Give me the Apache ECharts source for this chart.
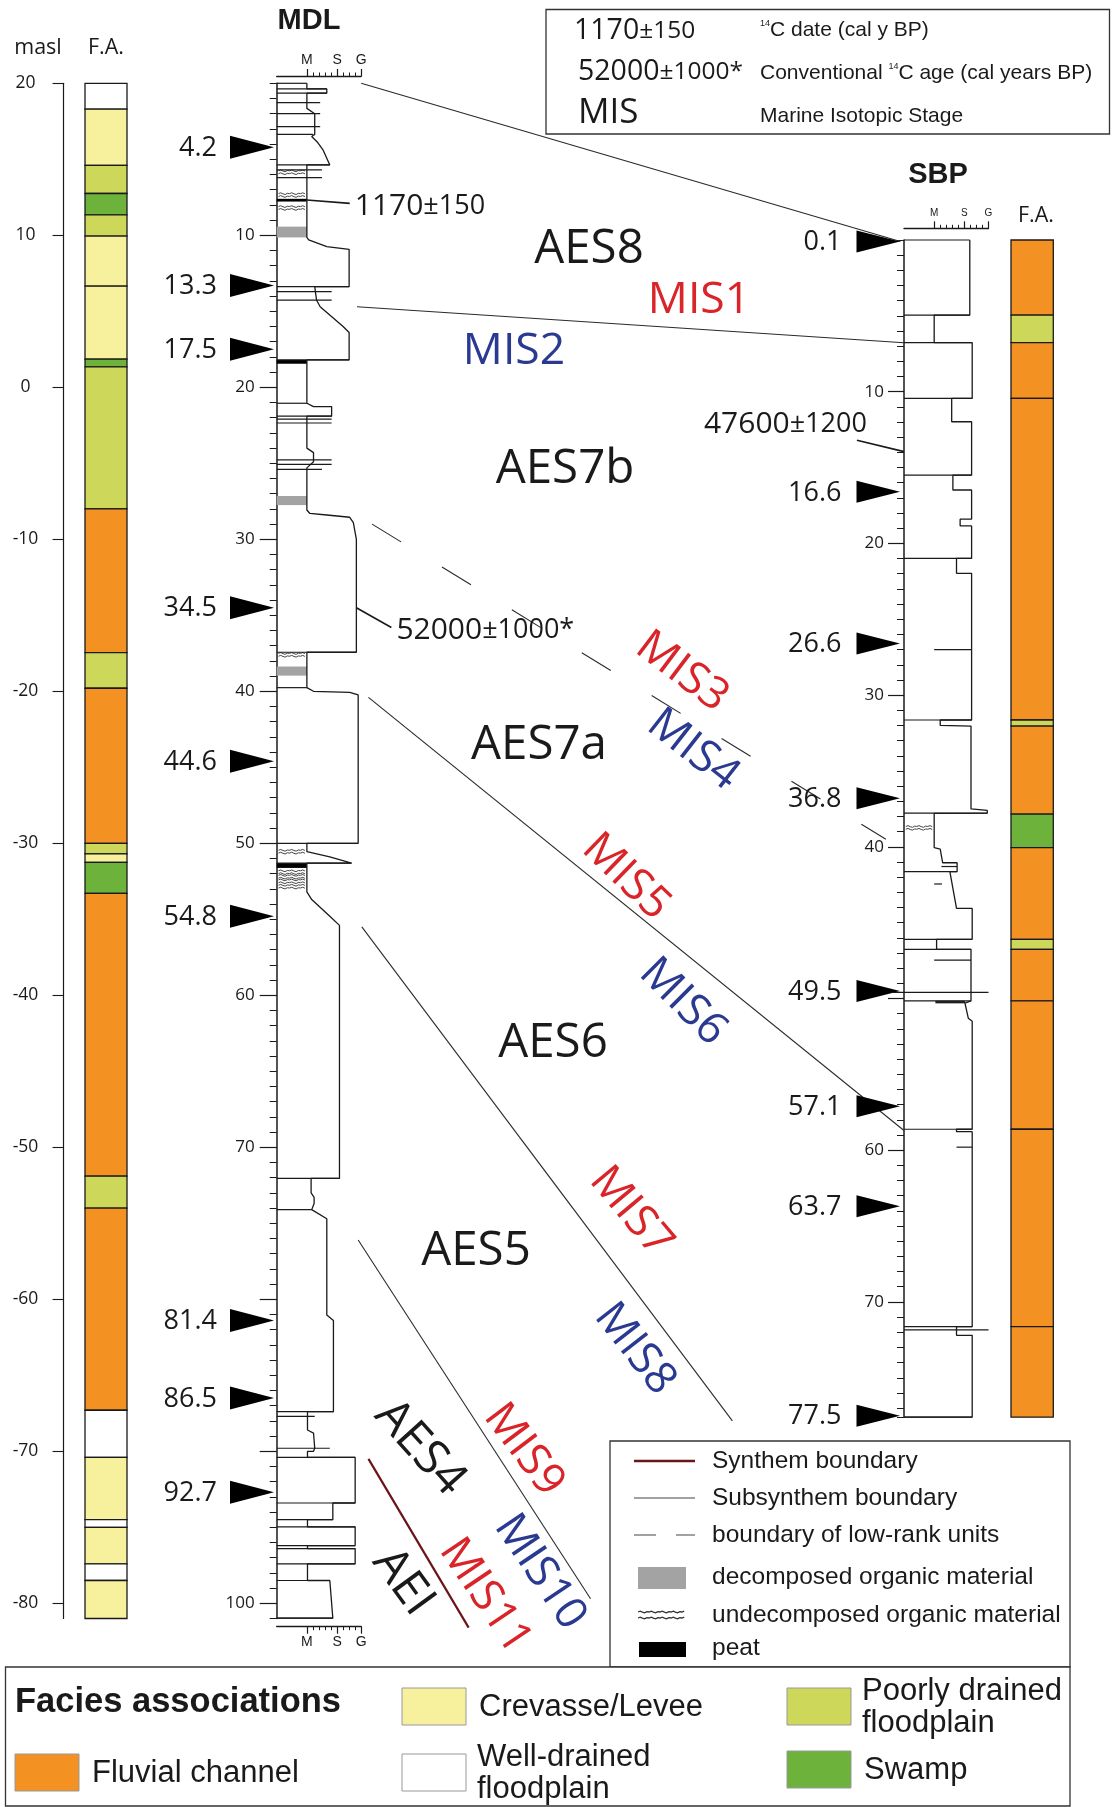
<!DOCTYPE html>
<html>
<head>
<meta charset="utf-8">
<script src="https://cdn.jsdelivr.net/npm/echarts@6.0.0/dist/echarts.min.js"></script>
<style>
html,body{margin:0;padding:0;background:#fff;}
#chart{width:1113px;height:1807px;}
</style>
</head>
<body>
<div id="chart"></div>
<script>
// ================= DATA =================
const maslTicks = [20, 10, 0, -10, -20, -30, -40, -50, -60, -70, -80];
// [top masl, bottom masl, facies code]
const leftFacies = [
  [20, 18.3, 'W'], [18.3, 14.6, 'C'], [14.6, 12.75, 'P'], [12.75, 11.35, 'S'], [11.35, 9.95, 'P'],
  [9.95, 6.65, 'C'], [6.65, 1.85, 'C'], [1.85, 1.35, 'S'], [1.35, -8.0, 'P'], [-8.0, -17.45, 'F'],
  [-17.45, -19.8, 'P'], [-19.8, -30.0, 'F'], [-30.0, -30.7, 'P'], [-30.7, -31.25, 'C'], [-31.25, -33.3, 'S'],
  [-33.3, -51.9, 'F'], [-51.9, -54.0, 'P'], [-54.0, -67.3, 'F'], [-67.3, -70.4, 'W'], [-70.4, -74.5, 'C'],
  [-74.5, -75.0, 'W'], [-75.0, -77.4, 'C'], [-77.4, -78.5, 'W'], [-78.5, -81.0, 'C']
];
const mdlMajorTicks = [10, 20, 30, 40, 50, 60, 70, 80, 90, 100];
const mdlDepthLabels = [10, 20, 30, 40, 50, 60, 70, 100];
// right edge of the MDL log: [grain size, depth m]
const mdlProfile = [
  [5.0,0],[5.0,0.37],[8.3,0.37],[8.3,0.65],[5.0,0.65],
  [5.0,1.65],[6.3,2.0],[6.3,3.36],
  [5.8,3.5],[6.8,3.9],[7.7,4.4],[8.8,5.37],[5.0,5.37],
  [5.0,10.14],[5.3,10.3],[8.3,10.75],[12.0,10.92],[12.0,13.38],[6.3,13.38],
  [6.6,14.26],[7.2,14.7],[11.0,16.0],[12.0,16.4],[12.0,18.2],[5.0,18.2],
  [5.0,21.05],[6.1,21.27],[9.1,21.27],[9.1,21.9],[5.0,21.9],
  [5.0,24.0],[6.1,24.3],[6.1,24.9],[5.0,25.3],
  [5.0,28.07],[5.5,28.3],[8.3,28.4],[12.1,28.55],[12.7,28.9],[13.2,30.0],[13.2,37.43],[5.0,37.43],
  [5.0,39.76],[6.1,40.0],[12.1,40.07],[13.5,40.24],[13.5,50.0],[5.0,50.0],
  [5.0,50.55],[8.8,50.9],[12.4,51.3],[5.0,51.3],
  [5.0,53.2],[5.8,53.7],[8.8,54.8],[10.4,55.4],[10.4,72.04],[5.7,72.04],
  [5.7,73.0],[6.2,73.3],[6.2,73.7],[5.8,74.1],[8.3,74.7],[8.3,81.03],[9.4,81.4],[9.4,87.39],[5.1,87.39],
  [5.1,88.6],[6.1,88.8],[6.3,88.8],[6.3,89.8],[6.1,90.0],[5.1,90.0],[5.1,90.4],
  [13.0,90.4],[13.0,93.4],[9.3,93.4],[9.3,94.5],[5.1,94.5],[5.1,94.97],[13.0,94.97],[13.0,96.2],
  [5.1,96.2],[5.1,96.4],[13.0,96.4],[13.0,97.4],[5.1,97.4],[5.1,98.5],[8.8,98.5],[9.3,100.98],[0,100.98]
];
// bed boundaries: [depth, from grain size, to grain size]
const mdlBeds = [
  [0,0,5.0],[0.37,0,8.3],[0.65,0,8.3],[1.27,0,7.2],[2.0,0,7.2],[2.85,0,7.2],[3.36,0,6.0],[5.37,0,8.8],
  [5.7,0,7.5],[6.2,0,7.5],[13.38,0,12.0],[13.7,0,9.1],[14.26,0,9.1],[18.2,0,12.0],[21.05,0,5.0],
  [21.9,0,9.1],[22.1,0,9.1],[22.35,0,9.1],[24.78,0,9.1],[25.07,0,9.1],[25.4,0,7.5],[37.43,0,13.2],
  [39.76,0,5.0],[50.0,0,13.5],[51.3,0,12.4],[72.04,0,10.4],[74.1,0,5.8],[87.39,0,9.4],[87.7,0,6.3],
  [89.8,0,8.8],[90.4,0,13.0],[93.4,0,13.0],[94.5,0,9.3],[94.97,0,13.0],[96.2,0,13.0],[96.4,0,13.0],
  [97.4,0,13.0],[98.5,0,8.8],[100.98,0,9.3]
];
// [top, bottom, from, to]
const mdlPeat = [[7.6,7.78,0,5.0],[18.2,18.45,0,5.0],[51.3,51.62,0,5.0]];
const mdlDecomposed = [[9.43,10.14,0,5.0],[27.15,27.75,0,5.0],[38.37,38.97,0,5.0]];
const mdlUndecomposed = [5.85, 7.35, 8.2, 37.6, 50.55, 51.9, 52.2, 52.5, 52.85];
const mdlAges = [4.2, 13.3, 17.5, 34.5, 44.6, 54.8, 81.4, 86.5, 92.7];

const sbpMajorTicks = [10, 20, 30, 40, 50, 60, 70];
const sbpDepthLabels = [10, 20, 30, 40, 60, 70];
const sbpProfile = [
  [10.9,0],[10.9,4.95],[5.0,4.95],[5.0,6.77],[11.3,6.77],[11.3,10.44],[7.9,10.44],[7.9,11.98],
  [11.2,11.98],[11.2,15.5],[8.1,15.5],[8.1,16.48],[11.2,16.48],[11.2,18.4],[9.3,18.4],[9.3,18.85],
  [11.2,18.85],[11.2,20.99],[8.7,20.99],[8.7,21.97],[11.2,21.97],[11.2,31.64],[6.0,31.64],[6.0,32.0],
  [11.1,32.04],[11.1,37.5],[13.8,37.6],[13.8,37.78],[5.0,37.8],[5.0,40.06],[6.0,40.15],[6.4,41.05],
  [8.8,41.05],[8.8,41.64],[7.6,41.64],[8.7,44.06],[11.3,44.06],[11.3,46.1],[5.4,46.1],[5.4,46.76],
  [11.1,46.76],[11.1,50.15],[10.1,50.3],[10.65,51.3],[11.3,51.5],[11.3,58.62],[8.7,58.62],[8.7,58.78],
  [11.3,58.78],[11.3,71.63],[8.7,71.63],[8.7,72.2],[11.3,72.2],[11.3,77.6],[0,77.6]
];
const sbpBeds = [
  [0,0,10.9],[4.95,0,10.9],[6.77,0,11.3],[10.44,0,11.3],[15.5,0,11.2],[20.99,0,11.2],[27.0,5.0,11.2],
  [31.64,0,11.2],[37.78,0,13.8],[41.3,6.2,8.8],[41.64,0,8.8],[42.45,5.0,6.3],[46.1,0,11.3],[46.76,0,11.1],
  [47.47,5.0,11.1],[49.6,-1.8,14.0],[50.15,0,11.1],[58.62,0,11.3],[59.8,8.7,11.3],[71.63,0,11.3],
  [71.85,0,14.0],[77.6,0,11.3]
];
const sbpPeat = [[50.15,50.32,5.2,10.1]];
const sbpUndecomposed = [38.75];
const sbpAges = [0.1, 16.6, 26.6, 36.8, 49.5, 57.1, 63.7, 77.5];
// [top depth, bottom depth, facies code]
const sbpFacies = [
  [0,4.95,'F'],[4.95,6.77,'P'],[6.77,10.44,'F'],[10.44,31.64,'F'],[31.64,32.04,'P'],[32.04,37.85,'F'],
  [37.85,40.06,'S'],[40.06,46.1,'F'],[46.1,46.76,'P'],[46.76,50.15,'F'],[50.15,58.62,'F'],
  [58.62,71.63,'F'],[71.63,77.6,'F']
];
const grainMinorTicks = [5, 6, 7, 8, 9, 10, 11, 12, 13, 14];
const grainMajorTicks = [5, 10, 14];
const grainClasses = ['M', 'S', 'G'];
// correlation lines between logs: [log, grain, depth] -> [log, grain, depth]
const correlations = [
  {a:['mdl',14.0,0], b:['sbp',-0.6,0.1], kind:'sub'},
  {a:['mdl',13.3,14.7], b:['sbp',0,6.77], kind:'sub'},
  {a:['mdl',15.8,29.0], b:['sbp',-3.0,39.5], kind:'low'},
  {a:['mdl',15.2,40.4], b:['sbp',0,58.7], kind:'sub'},
  {a:['mdl',14.1,55.5], b:['mdl',75.5,88.0], kind:'sub'},
  {a:['mdl',13.5,76.1], b:['mdl',52.0,99.7], kind:'sub'},
  {a:['mdl',15.2,90.5], b:['mdl',31.8,101.6], kind:'syn'}
];
// radiocarbon dates: sample point on log -> end of leader
const radiocarbon = [
  {log:'mdl', at:[5.0,7.68], end:[12.1,7.9], age:'1170', err:'±150', side:'right'},
  {log:'mdl', at:[13.2,34.5], end:[19.0,35.8], age:'52000', err:'±1000*', side:'right'},
  {log:'sbp', at:[0,13.95], end:[-7.8,13.2], age:'47600', err:'±1200', side:'left'}
];
const unitNames = ['AES8','MIS1','MIS2','AES7b','MIS3','MIS4','AES7a','MIS5','MIS6','AES6','MIS7','MIS8','AES5','AES4','MIS9','MIS10','MIS11','AEI'];
const faciesLegend = [['C','Crevasse/Levee'],['P','Poorly drained\nfloodplain'],['F','Fluvial channel'],['W','Well-drained\nfloodplain'],['S','Swamp']];
const symbolLegend = ['Synthem boundary','Subsynthem boundary','boundary of low-rank units','decomposed organic material','undecomposed organic material','peat'];

// ================= STYLE =================
const FC = {F:'#f39223', C:'#f7f19d', W:'#ffffff', P:'#cdd85a', S:'#6db23a'};
const INK = '#1a1a1a';
const NUM = "'Open Sans','Noto Sans',sans-serif";
const SANS = "'Liberation Sans',Arial,sans-serif";
const RED = '#d9252a', BLUE = '#2b3a91', SYN = '#6b1518';

const chart = echarts.init(document.getElementById('chart'), null, {renderer:'canvas', width:1113, height:1807});

function faciesRender(rows){
  return function(params, api){
    const r = rows[params.dataIndex];
    const a = api.coord([0, r[0]]), b = api.coord([1, r[1]]);
    return {type:'rect', shape:{x:a[0], y:Math.min(a[1],b[1]), width:b[0]-a[0], height:Math.abs(b[1]-a[1])},
      style:{fill:FC[r[2]], stroke:INK, lineWidth:1.3}};
  };
}
function bedRender(rows){
  return function(params, api){
    const r = rows[params.dataIndex];
    const a = api.coord([r[1], r[0]]), b = api.coord([r[2], r[0]]);
    return {type:'line', shape:{x1:a[0], y1:a[1], x2:b[0], y2:b[1]}, style:{stroke:INK, lineWidth:1.2}};
  };
}
function fillRender(rows, color){
  return function(params, api){
    const r = rows[params.dataIndex];
    const a = api.coord([r[2], r[0]]), b = api.coord([r[3], r[1]]);
    return {type:'rect', shape:{x:a[0], y:a[1], width:b[0]-a[0], height:b[1]-a[1]}, style:{fill:color}};
  };
}
function wavy(x0, x1, y){
  const pts = [];
  const pat = [0, -0.8, 0.2, 0.9, -0.3];
  let i = 0;
  for (let x = x0; x <= x1; x += 2.2) { pts.push([x, y + pat[i % pat.length]]); i++; }
  return pts;
}
function undecRender(rows){
  return function(params, api){
    const d = rows[params.dataIndex];
    const a = api.coord([0.3, d]), b = api.coord([4.8, d]);
    return {type:'group', children:[
      {type:'polyline', shape:{points:wavy(a[0], b[0], a[1]-1.4)}, style:{stroke:'#444', lineWidth:1, fill:null}},
      {type:'polyline', shape:{points:wavy(a[0], b[0], a[1]+1.4)}, style:{stroke:'#444', lineWidth:1, fill:null}}
    ]};
  };
}
function markerRender(rows, tipGap, len, half, labelGap){
  return function(params, api){
    const d = rows[params.dataIndex];
    const p = api.coord([0, d]);
    const tip = p[0] - tipGap;
    return {type:'group', children:[
      {type:'polygon', shape:{points:[[tip,p[1]],[tip-len,p[1]-half],[tip-len,p[1]+half]]}, style:{fill:'#000'}},
      {type:'text', style:{text:d.toFixed(1), x:tip-len-labelGap, y:p[1]+1, align:'right', textAlign:'right',
        verticalAlign:'middle', textVerticalAlign:'middle', fontSize:27, fontFamily:NUM, fill:INK}}
    ]};
  };
}

function grainAxes(gridIndex, position, offset, fontSize, margin, showLabels){
  return [
    {gridIndex, type:'value', min:0, max:14, position, offset,
      axisLine:{show:true, onZero:false, lineStyle:{color:INK, width:1.3}},
      axisTick:{show:true, customValues:grainMinorTicks, length:3.5, lineStyle:{color:INK, width:1}},
      axisLabel:{show:false}, splitLine:{show:false}},
    {gridIndex, type:'value', min:0, max:14, position, offset,
      axisLine:{show:false, onZero:false},
      axisTick:{show:true, customValues:grainMajorTicks, length:7, lineStyle:{color:INK, width:1.2}},
      axisLabel:{show:showLabels, customValues:grainMajorTicks, margin, fontSize, fontFamily:SANS, color:INK,
        formatter:v => grainClasses[grainMajorTicks.indexOf(v)] || ''},
      splitLine:{show:false}}
  ];
}

const option = {
  animation:false,
  backgroundColor:'#fff',
  textStyle:{fontFamily:NUM},
  grid:[
    {left:85, top:83.3, width:42, height:1535.2, outerBoundsMode:'none'},
    {left:276.7, top:83.3, width:84.5, height:1535.2, outerBoundsMode:'none'},
    {left:904, top:240, width:84.5, height:1177.2, outerBoundsMode:'none'},
    {left:1011, top:240, width:42.3, height:1177.2, outerBoundsMode:'none'}
  ],
  xAxis:[
    {gridIndex:0, type:'value', min:0, max:1, show:false},
    ...grainAxes(1, 'top', 7.3, 14, 9, true),
    ...grainAxes(1, 'bottom', 8.2, 14, 8, true),
    ...grainAxes(2, 'top', 11.7, 10, 10, true),
    {gridIndex:3, type:'value', min:0, max:1, show:false}
  ],
  yAxis:[
    {gridIndex:0, type:'value', min:-81, max:20, position:'left', offset:21.5,
      axisLine:{show:true, onZero:false, lineStyle:{color:INK, width:1.2}},
      axisTick:{show:true, customValues:maslTicks, length:11, lineStyle:{color:INK, width:1.1}},
      axisLabel:{show:true, customValues:maslTicks, align:'center', margin:38, fontSize:17.5, color:INK, fontFamily:NUM},
      splitLine:{show:false}},
    {gridIndex:1, type:'value', inverse:true, min:0, max:101, position:'left',
      axisLine:{show:true, onZero:false, lineStyle:{color:INK, width:1.5}},
      axisTick:{show:true, customValues:mdlMajorTicks, length:17, lineStyle:{color:INK, width:1.2}},
      axisLabel:{show:true, customValues:mdlDepthLabels, margin:22, fontSize:17, color:INK, fontFamily:NUM},
      splitLine:{show:false}},
    {gridIndex:1, type:'value', inverse:true, min:0, max:101, interval:1, position:'left',
      axisLine:{show:false, onZero:false},
      axisTick:{show:true, length:7, lineStyle:{color:INK, width:1}},
      axisLabel:{show:false}, splitLine:{show:false}},
    {gridIndex:2, type:'value', inverse:true, min:0, max:77.6, position:'left',
      axisLine:{show:true, onZero:false, lineStyle:{color:INK, width:1.5}},
      axisTick:{show:true, customValues:sbpMajorTicks, length:16, lineStyle:{color:INK, width:1.2}},
      axisLabel:{show:true, customValues:sbpDepthLabels, margin:20, fontSize:17, color:INK, fontFamily:NUM},
      splitLine:{show:false}},
    {gridIndex:2, type:'value', inverse:true, min:0, max:77.6, interval:1, position:'left',
      axisLine:{show:false, onZero:false},
      axisTick:{show:true, length:7, lineStyle:{color:INK, width:1}},
      axisLabel:{show:false}, splitLine:{show:false}},
    {gridIndex:3, type:'value', inverse:true, min:0, max:77.6, show:false}
  ],
  series:[
    {type:'custom', xAxisIndex:0, yAxisIndex:0, data:leftFacies.map(r => [0, r[0]]), renderItem:faciesRender(leftFacies), silent:true},
    {type:'custom', xAxisIndex:7, yAxisIndex:5, data:sbpFacies.map(r => [0, r[0]]), renderItem:faciesRender(sbpFacies), silent:true},
    // MDL
    {type:'custom', xAxisIndex:1, yAxisIndex:1, data:mdlDecomposed.map(r => [r[2], r[0]]), renderItem:fillRender(mdlDecomposed, '#a3a3a3'), silent:true},
    {type:'custom', xAxisIndex:1, yAxisIndex:1, data:mdlPeat.map(r => [r[2], r[0]]), renderItem:fillRender(mdlPeat, '#000'), silent:true},
    {type:'custom', xAxisIndex:1, yAxisIndex:1, data:mdlUndecomposed.map(d => [0, d]), renderItem:undecRender(mdlUndecomposed), silent:true},
    {type:'custom', xAxisIndex:1, yAxisIndex:1, data:mdlBeds.map(r => [r[1], r[0]]), renderItem:bedRender(mdlBeds), silent:true},
    {type:'line', xAxisIndex:1, yAxisIndex:1, data:mdlProfile, showSymbol:false, symbol:'none', clip:false, silent:true,
      lineStyle:{color:INK, width:1.3}},
    {type:'custom', xAxisIndex:1, yAxisIndex:1, data:mdlAges.map(d => [0, d]), renderItem:markerRender(mdlAges, 2.7, 44, 11.5, 13), silent:true, z:5},
    // SBP
    {type:'custom', xAxisIndex:5, yAxisIndex:3, data:sbpPeat.map(r => [r[2], r[0]]), renderItem:fillRender(sbpPeat, '#222'), silent:true},
    {type:'custom', xAxisIndex:5, yAxisIndex:3, data:sbpUndecomposed.map(d => [0, d]), renderItem:undecRender(sbpUndecomposed), silent:true},
    {type:'custom', xAxisIndex:5, yAxisIndex:3, data:sbpBeds.map(r => [r[1], r[0]]), renderItem:bedRender(sbpBeds), silent:true},
    {type:'line', xAxisIndex:5, yAxisIndex:3, data:sbpProfile, showSymbol:false, symbol:'none', clip:false, silent:true,
      lineStyle:{color:INK, width:1.3}},
    {type:'custom', xAxisIndex:5, yAxisIndex:3, data:sbpAges.map(d => [0, d]), renderItem:markerRender(sbpAges, 4, 43.5, 11, 15), silent:true, z:5}
  ]
};
chart.setOption(option);

// ---------- second pass: annotations positioned via the axes ----------
function toPx(log, x, d){
  return log === 'mdl'
    ? chart.convertToPixel({xAxisIndex:1, yAxisIndex:1}, [x, d])
    : chart.convertToPixel({xAxisIndex:5, yAxisIndex:3}, [x, d]);
}
function txt(x, y, text, o){
  o = o || {};
  return {type:'text', x, y, rotation:o.rot ? -o.rot*Math.PI/180 : 0, silent:true, z:10,
    style:Object.assign({text, x:0, y:0, fill:o.fill || INK, fontSize:o.size || 20, fontFamily:o.family || SANS,
      fontWeight:o.weight || 'normal', align:o.align || 'left', textAlign:o.align || 'left',
      verticalAlign:'middle', textVerticalAlign:'middle'}, o.extra || {})};
}
const G = [];
correlations.forEach(c => {
  const a = toPx(c.a[0], c.a[1], c.a[2]), b = toPx(c.b[0], c.b[1], c.b[2]);
  G.push({type:'line', silent:true, z:3, shape:{x1:a[0], y1:a[1], x2:b[0], y2:b[1]},
    style:{stroke:c.kind === 'syn' ? SYN : '#2a2a2a', lineWidth:c.kind === 'syn' ? 2.2 : 1.1,
      lineDash:c.kind === 'low' ? [34, 48] : null}});
});
const richDate = {m:{fontSize:30, fontFamily:NUM, fill:INK}, e:{fontSize:27, fontFamily:NUM, fill:INK}};
radiocarbon.forEach(r => {
  const a = toPx(r.log, r.at[0], r.at[1]), b = toPx(r.log, r.end[0], r.end[1]);
  G.push({type:'line', silent:true, z:3, shape:{x1:a[0], y1:a[1], x2:b[0], y2:b[1]}, style:{stroke:INK, lineWidth:1.6}});
  const label = '{m|' + r.age + '}{e|' + r.err + '}';
  if (r.side === 'right') {
    G.push(txt(b[0] + 5, b[1] + 3, label, {extra:{rich:richDate}}));
  } else {
    G.push(txt(b[0] + 10, b[1] - 16, label, {align:'right', extra:{rich:richDate}}));
  }
});
// unit / stage labels
const unitLayout = {
  AES8:[589,249,0], MIS1:[699,300,0], MIS2:[514,351,0], AES7b:[565,469,0],
  MIS3:[682,672,37], MIS4:[693,750,38], AES7a:[539,745,0], MIS5:[626,877,44], MIS6:[683,1002,45],
  AES6:[553,1043,0], MIS7:[631,1212,50], MIS8:[635,1349,52], AES5:[476,1251,0], AES4:[420,1448,48],
  MIS9:[524,1450,53], MIS10:[540,1572,56], MIS11:[485,1596,56], AEI:[403,1582,54]
};
unitNames.forEach(n => {
  const l = unitLayout[n];
  const isMIS = n.indexOf('MIS') === 0;
  const num = isMIS ? parseInt(n.slice(3), 10) : 0;
  const fill = isMIS ? (num % 2 === 1 ? RED : BLUE) : INK;
  G.push(txt(l[0], l[1], n, {rot:l[2], fill, size:isMIS ? 44.5 : 47.5, family:NUM, align:'center'}));
});
// titles
G.push(txt(309, 21, 'MDL', {size:29, weight:'bold', align:'center'}));
G.push(txt(938, 175, 'SBP', {size:29, weight:'bold', align:'center'}));
G.push(txt(38, 48, 'masl', {size:21.5, family:NUM, align:'center'}));
G.push(txt(106, 48, 'F.A.', {size:21.5, family:NUM, align:'center'}));
G.push(txt(1036, 216, 'F.A.', {size:21.5, family:NUM, align:'center'}));

// top-right legend
G.push({type:'rect', silent:true, shape:{x:546, y:9.5, width:563.5, height:124.5}, style:{fill:null, stroke:'#333', lineWidth:1.3}});
const richLeg = {m:{fontSize:28.5, fontFamily:NUM, fill:INK}, e:{fontSize:24.5, fontFamily:NUM, fill:INK}};
const richSup = {n:{fontSize:21, fontFamily:SANS, fill:INK}, s:{fontSize:9, fontFamily:SANS, fill:INK, verticalAlign:'top'}};
G.push(txt(574, 31, '{m|1170}{e|±150}', {extra:{rich:richLeg}}));
G.push(txt(760, 30, '{s|14}{n|C date (cal y BP)}', {extra:{rich:richSup}}));
G.push(txt(578, 72, '{m|52000}{e|±1000*}', {extra:{rich:richLeg}}));
G.push(txt(760, 73, '{n|Conventional }{s|14}{n|C age (cal years BP)}', {extra:{rich:richSup}}));
G.push(txt(578, 113, 'MIS', {size:35, family:NUM}));
G.push(txt(760, 116, 'Marine Isotopic Stage', {size:21}));

// bottom-right symbol legend
G.push({type:'rect', silent:true, shape:{x:610, y:1441, width:460, height:226}, style:{fill:'#fff', stroke:'#333', lineWidth:1.3}, z:1});
const symY = [1461, 1498, 1535, 1577, 1615, 1648];
G.push({type:'line', silent:true, z:2, shape:{x1:634, y1:symY[0], x2:695, y2:symY[0]}, style:{stroke:SYN, lineWidth:2.4}});
G.push({type:'line', silent:true, z:2, shape:{x1:634, y1:symY[1], x2:695, y2:symY[1]}, style:{stroke:'#444', lineWidth:1.2}});
G.push({type:'line', silent:true, z:2, shape:{x1:634, y1:symY[2], x2:695, y2:symY[2]}, style:{stroke:'#444', lineWidth:1.2, lineDash:[22, 20]}});
G.push({type:'rect', silent:true, z:2, shape:{x:638, y:1567, width:48, height:22}, style:{fill:'#a3a3a3'}});
G.push({type:'polyline', silent:true, z:2, shape:{points:wavy(638, 686, 1612)}, style:{stroke:'#333', lineWidth:1.3, fill:null}});
G.push({type:'polyline', silent:true, z:2, shape:{points:wavy(638, 686, 1618)}, style:{stroke:'#333', lineWidth:1.3, fill:null}});
G.push({type:'rect', silent:true, z:2, shape:{x:639, y:1642, width:47, height:15}, style:{fill:'#000'}});
symbolLegend.forEach((s, i) => G.push(txt(712, symY[i], s, {size:24.5})));

// facies legend
G.push({type:'rect', silent:true, z:1, shape:{x:5.5, y:1667, width:1064.5, height:139}, style:{fill:'#fff', stroke:'#333', lineWidth:1.3}});
G.push(txt(15, 1702, 'Facies associations', {size:34.5, weight:'bold'}));
const swatch = {C:[402,1688], P:[787,1688], F:[15,1754], W:[402,1754], S:[787,1751]};
faciesLegend.forEach(f => {
  const p = swatch[f[0]];
  G.push({type:'rect', silent:true, z:2, shape:{x:p[0], y:p[1], width:64, height:37}, style:{fill:FC[f[0]], stroke:'#999', lineWidth:1}});
  const lines = f[1].split('\n');
  if (lines.length === 1) {
    G.push(txt(p[0] + 77, p[1] + 19, lines[0], {size:31}));
  } else {
    G.push(txt(p[0] + 75, p[1] + 3, lines[0], {size:31}));
    G.push(txt(p[0] + 75, p[1] + 35, lines[1], {size:31}));
  }
});
chart.setOption({graphic:{elements:G}});
</script>
</body>
</html>
